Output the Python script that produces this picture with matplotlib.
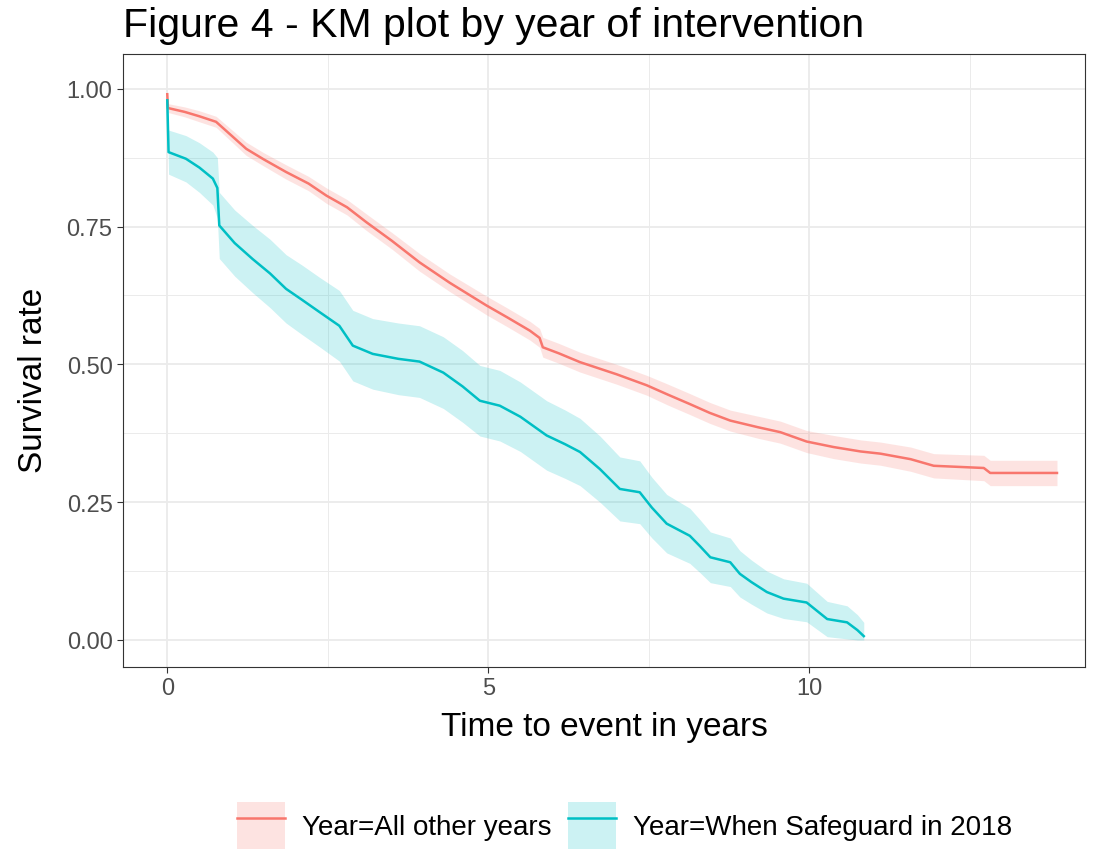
import numpy as np
import matplotlib.pyplot as plt
from matplotlib.patches import Patch
from matplotlib.lines import Line2D
from matplotlib.legend_handler import HandlerTuple
from matplotlib.ticker import MultipleLocator

plt.rcParams['font.family'] = ['Liberation Sans', 'DejaVu Sans']

# Year = All other years
t_other = [0.0, 0.01, 0.27, 0.5, 0.76, 1.0, 1.23, 1.5, 1.85, 2.2, 2.48, 2.8, 3.1, 3.5,
           3.93, 4.4, 4.97, 5.3, 5.65, 5.8, 5.85, 6.1, 6.43, 7.0, 7.47, 7.8, 8.14,
           8.45, 8.77, 9.2, 9.55, 9.96, 10.38, 10.8, 11.11, 11.58, 11.94, 12.72,
           12.82, 13.86]
s_other = [0.99, 0.965, 0.958, 0.95, 0.94, 0.915, 0.891, 0.872, 0.849, 0.828, 0.806,
           0.785, 0.758, 0.724, 0.685, 0.648, 0.607, 0.585, 0.561, 0.548, 0.531, 0.52,
           0.504, 0.482, 0.462, 0.445, 0.428, 0.412, 0.398, 0.386, 0.377, 0.36, 0.35,
           0.342, 0.338, 0.328, 0.316, 0.312, 0.303, 0.303]
ci_other = [0.005, 0.008, 0.009, 0.01, 0.01, 0.011, 0.012, 0.012, 0.013, 0.013, 0.014,
            0.014, 0.015, 0.015, 0.016, 0.016, 0.017, 0.017, 0.017, 0.017, 0.018, 0.018,
            0.018, 0.018, 0.018, 0.019, 0.019, 0.019, 0.019, 0.02, 0.02, 0.02, 0.021,
            0.021, 0.021, 0.022, 0.022, 0.023, 0.023, 0.023]

# Year = When Safeguard in 2018
t_safe = [0.0, 0.02, 0.29, 0.5, 0.71, 0.78, 0.81, 1.05, 1.33, 1.6, 1.85, 2.1, 2.37,
          2.68, 2.89, 3.2, 3.6, 3.93, 4.3, 4.6, 4.87, 5.18, 5.5, 5.91, 6.2, 6.43, 6.74,
          7.05, 7.36, 7.55, 7.78, 8.14, 8.3, 8.46, 8.77, 8.92, 9.1, 9.34, 9.6, 9.96,
          10.28, 10.59, 10.75, 10.85]
s_safe = [0.979, 0.885, 0.873, 0.857, 0.837, 0.82, 0.752, 0.72, 0.691, 0.665, 0.637,
          0.617, 0.595, 0.57, 0.534, 0.519, 0.51, 0.505, 0.485, 0.46, 0.434, 0.425,
          0.405, 0.371, 0.355, 0.341, 0.31, 0.274, 0.268, 0.24, 0.211, 0.189, 0.17,
          0.15, 0.141, 0.12, 0.105, 0.087, 0.075, 0.068, 0.038, 0.032, 0.018, 0.007]
ci_safe = [0.02, 0.04, 0.042, 0.045, 0.048, 0.055, 0.06, 0.06, 0.061, 0.062, 0.062,
           0.063, 0.063, 0.064, 0.064, 0.064, 0.065, 0.065, 0.065, 0.065, 0.064, 0.064,
           0.063, 0.063, 0.062, 0.061, 0.06, 0.058, 0.057, 0.055, 0.053, 0.05, 0.048,
           0.046, 0.044, 0.042, 0.04, 0.038, 0.036, 0.035, 0.032, 0.03, 0.028, 0.025]

red = '#F8766D'
teal = '#00BFC4'

fig = plt.figure(figsize=(11.04, 8.54), dpi=100)
ax = fig.add_axes([0.1114, 0.2178, 0.8716, 0.7178])

for t, s, ci, col in [(t_other, s_other, ci_other, red), (t_safe, s_safe, ci_safe, teal)]:
    t = np.array(t)
    s = np.array(s)
    ci = np.array(ci)
    lo = np.clip(s - ci, 0, 1)
    hi = np.clip(s + ci, 0, 1)
    ax.fill_between(t, lo, hi, color=col, alpha=0.2, linewidth=0)
    ax.plot(t, s, color=col, linewidth=1.8)

ax.set_xlim(-0.69, 14.3)
ax.set_ylim(-0.049, 1.063)
ax.xaxis.set_major_locator(MultipleLocator(5))
ax.xaxis.set_minor_locator(MultipleLocator(2.5))
ax.yaxis.set_major_locator(MultipleLocator(0.25))
ax.yaxis.set_minor_locator(MultipleLocator(0.125))
ax.yaxis.set_major_formatter(plt.FuncFormatter(lambda v, p: f'{v:.2f}'))
ax.grid(which='major', color='#EBEBEB', linewidth=1.3)
ax.grid(which='minor', color='#EBEBEB', linewidth=0.7)
ax.set_axisbelow(True)
for sp in ax.spines.values():
    sp.set_color('#333333')
    sp.set_linewidth(0.8)
ax.tick_params(which='major', length=4, color='#333333', labelsize=17, labelcolor='#4D4D4D')
ax.tick_params(which='minor', length=0)

ax.set_xlabel('Time to event in years', fontsize=24, labelpad=8)
ax.set_ylabel('Survival rate', fontsize=24)
ax.yaxis.set_label_coords(-0.077, 0.47)
fig.text(0.1114, 0.97, 'Figure 4 - KM plot by year of intervention', fontsize=29.5,
         ha='left', va='center')

handles = [(Patch(facecolor=red, alpha=0.2), Line2D([], [], color=red, linewidth=1.8)),
           (Patch(facecolor=teal, alpha=0.2), Line2D([], [], color=teal, linewidth=1.8))]
labels = ['Year=All other years', 'Year=When Safeguard in 2018']
fig.legend(handles, labels, loc='center', bbox_to_anchor=(0.566, 0.032), ncol=2,
           frameon=False, fontsize=20, handlelength=1.73, handleheight=2.22,
           columnspacing=0.6, handletextpad=0.61, borderaxespad=0, borderpad=0,
           handler_map={tuple: HandlerTuple(ndivide=1, pad=0)})

fig.savefig('out.png', dpi=100)
